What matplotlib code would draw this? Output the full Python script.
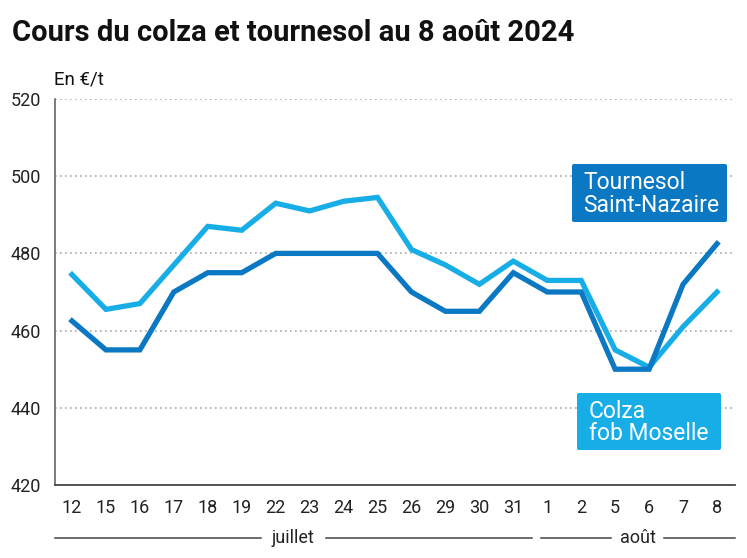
import matplotlib
matplotlib.use("Agg")
import matplotlib.pyplot as plt
from matplotlib.patches import FancyBboxPatch
from matplotlib.lines import Line2D

plt.rcParams['font.family'] = ['Roboto', 'DejaVu Sans']

days = ["12", "15", "16", "17", "18", "19", "22", "23", "24", "25", "26", "29", "30", "31",
        "1", "2", "5", "6", "7", "8"]
tournesol = [462.5, 455, 455, 470, 475, 475, 480, 480, 480, 480, 470, 465, 465, 475,
             470, 470, 450, 450, 472, 482.5]
colza = [474.5, 465.5, 467, 477, 487, 486, 493, 491, 493.5, 494.5, 481, 477, 472, 478,
         473, 473, 455, 450.5, 461, 470]
yticks = [420, 440, 460, 480, 500, 520]
months = [("juillet", 0, 13), ("août", 14, 19)]

c_dark = "#0a78c2"
c_light = "#17ade6"

W, H = 747, 558
fig = plt.figure(figsize=(W / 100, H / 100), dpi=100)
ax = fig.add_axes([55 / W, 73 / H, 680 / W, 386 / H])

x = list(range(len(days)))
ax.plot(x, colza, color=c_light, lw=3.8, solid_joinstyle='miter', zorder=3)
ax.plot(x, tournesol, color=c_dark, lw=3.8, solid_joinstyle='miter', zorder=4)

XMAX = 19.53
ax.set_xlim(-0.5, XMAX)
ax.set_ylim(420, 520)
ax.set_yticks(yticks)
ax.set_xticks(x)
ax.set_xticklabels(days)
ax.tick_params(axis='both', length=0, labelsize=13, colors='#222222')
ax.tick_params(axis='y', pad=10)
ax.tick_params(axis='x', pad=10)

for yv in yticks[1:]:
    ax.axhline(yv, color='#aaaaaa', lw=1.2, ls=(0, (1, 2)), zorder=1)

for s in ['top', 'right']:
    ax.spines[s].set_visible(False)
ax.spines['left'].set_color('#666666')
ax.spines['left'].set_linewidth(1.2)
ax.spines['bottom'].set_color('#444444')
ax.spines['bottom'].set_linewidth(1.3)

fig.text(12 / W, 1 - 33 / H, "Cours du colza et tournesol au 8 août 2024",
         fontsize=21, fontweight='bold', color='#111111', va='center', ha='left')
fig.text(54 / W, 1 - 80 / H, "En €/t", fontsize=13.5, color='#111111', va='center', ha='left')

# month bands
trans = ax.get_xaxis_transform()
ymonth = -0.137
bounds = {"juillet": (-0.5, 13.55), "août": (13.81, XMAX)}
for name, i0, i1 in months:
    x0, x1 = bounds[name]
    xm = (x0 + x1) / 2
    ax.text(xm, ymonth, name, transform=trans, ha='center', va='center',
            fontsize=13, color='#222222', clip_on=False)
    half = 0.95 if name == "juillet" else 0.78
    ax.add_line(Line2D([x0, xm - half], [ymonth, ymonth], transform=trans,
                       color='#444444', lw=1.1, clip_on=False))
    ax.add_line(Line2D([xm + half, x1], [ymonth, ymonth], transform=trans,
                       color='#444444', lw=1.1, clip_on=False))

# label boxes
def label_box(x0, y0, x1, y1, color, text, pad):
    p = FancyBboxPatch((x0 / W, 1 - y1 / H), (x1 - x0) / W, (y1 - y0) / H,
                       boxstyle="round,pad=0,rounding_size=0.003",
                       transform=fig.transFigure, facecolor=color, edgecolor='none',
                       zorder=10)
    fig.add_artist(p)
    fig.text((x0 + pad) / W, 1 - ((y0 + y1) / 2 + 1) / H, text, color='white', fontsize=16.5,
             va='center', ha='left', linespacing=1.0, zorder=11)

label_box(572, 164, 727, 222, c_dark, "Tournesol\nSaint-Nazaire", 11)
label_box(577, 393, 721, 450, c_light, "Colza\nfob Moselle", 12)

fig.savefig("out.png", dpi=100)
